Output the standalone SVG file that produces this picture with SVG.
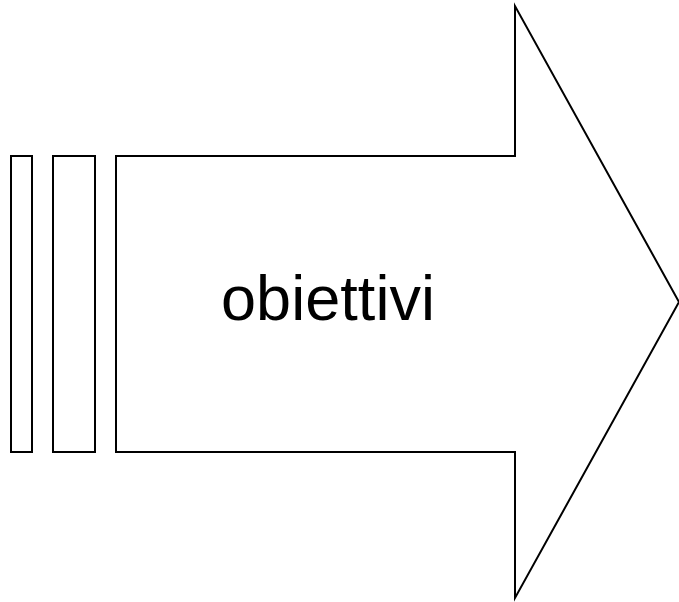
<svg xmlns="http://www.w3.org/2000/svg" width="679" height="602" viewBox="0 0 679 602">
<style>
.s{fill:#fff;stroke:#000;stroke-width:2;stroke-linejoin:miter}
.t{font-family:"Liberation Sans",Arial,sans-serif;font-size:63px;fill:#000}
</style>
<rect width="679" height="602" fill="#fff"/>
<g id="stripe1"><rect class="s" x="11" y="156" width="21" height="296"/></g>
<g id="stripe2"><rect class="s" x="53" y="156" width="42" height="296"/></g>
<g id="arrow">
<path class="s" d="M116,156 H515 V6 L679,302 L515,598 V452 H116 Z"/>
<text class="t" x="221" y="320" textLength="214">obiettivi</text>
</g>
</svg>
